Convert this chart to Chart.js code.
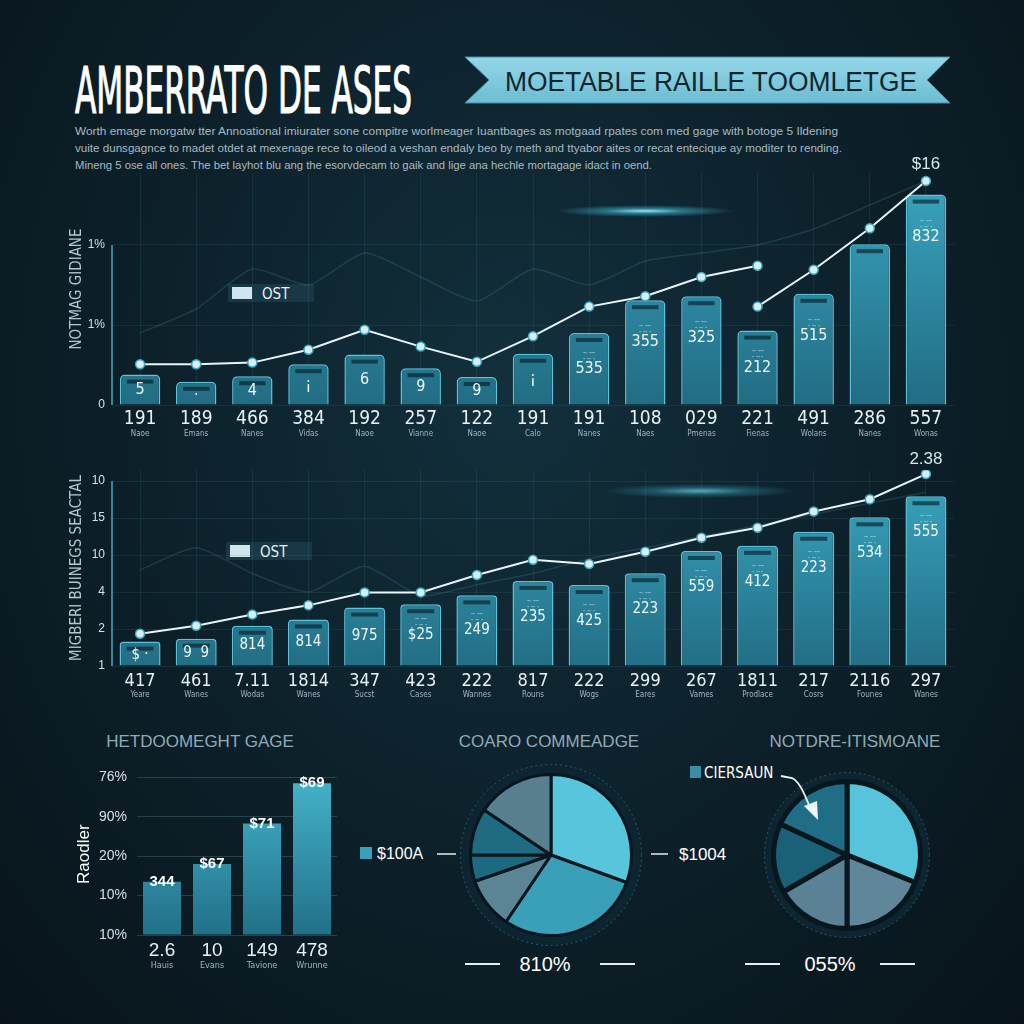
<!DOCTYPE html>
<html>
<head>
<meta charset="utf-8">
<script src="https://cdn.jsdelivr.net/npm/chart.js@4.4.1/dist/chart.umd.min.js"></script>
<style>
  html, body { margin: 0; padding: 0; }
  body {
    width: 1024px; height: 1024px; overflow: hidden; position: relative;
    background: radial-gradient(ellipse at 50% 38%, #12303c 0%, #0d222c 45%, #08141a 100%);
    font-family: "Liberation Sans", sans-serif;
  }
  svg.txt { position: absolute; left: 0; top: 0; }
  canvas { position: absolute; }
  .glow { position: absolute; border-radius: 50%; }
</style>
</head>
<body>

<svg class="txt" width="1024" height="1024">
  <defs>
    <linearGradient id="rib" x1="0" y1="0" x2="0" y2="1">
      <stop offset="0" stop-color="#94d7e8"/>
      <stop offset="1" stop-color="#6cbdd3"/>
    </linearGradient>
  </defs>
  <text x="75" y="113" font-family="Liberation Sans Narrow, DejaVu Sans Condensed" font-size="64" fill="#ffffff" stroke="#ffffff" stroke-width="1.2" textLength="337" lengthAdjust="spacingAndGlyphs">AMBERRATO DE ASES</text>
  <polygon points="465,57 950,57 927,80 950,103 465,103 489,80" fill="url(#rib)" stroke="#3f8fa6" stroke-width="1"/>
  <text x="505" y="91" font-family="Liberation Sans" font-size="27" fill="#10262f" textLength="412" lengthAdjust="spacingAndGlyphs">MOETABLE RAILLE TOOMLETGE</text>
  <g font-family="Liberation Sans" font-size="11" fill="#a7bac3">
    <text x="75" y="135" textLength="763" lengthAdjust="spacingAndGlyphs">Worth emage morgatw tter Annoational imiurater sone compitre worlmeager Iuantbages as motgaad rpates com med gage with botoge 5 Ildening</text>
    <text x="75" y="152" textLength="767" lengthAdjust="spacingAndGlyphs">vuite dunsgagnce to madet otdet at mexenage rece to oileod a veshan endaly beo by meth and ttyabor aites or recat entecique ay moditer to rending.</text>
    <text x="75" y="169" textLength="577" lengthAdjust="spacingAndGlyphs">Mineng 5 ose all ones. The bet layhot blu ang the esorvdecam to gaik and lige ana hechle mortagage idact in oend.</text>
  </g>

  <!-- OST boxes -->
  <rect x="228" y="284" width="86" height="18" fill="#1c3d4b" opacity="0.8"/>
  <rect x="232" y="287" width="20" height="12" fill="#cfe6ee"/>
  <text x="262" y="299" font-family="Liberation Sans Narrow, DejaVu Sans Condensed" font-size="15" fill="#e8f1f4">OST</text>
  <rect x="226" y="542" width="86" height="18" fill="#1c3d4b" opacity="0.8"/>
  <rect x="230" y="545" width="20" height="12" fill="#cfe6ee"/>
  <text x="260" y="557" font-family="Liberation Sans Narrow, DejaVu Sans Condensed" font-size="15" fill="#e8f1f4">OST</text>

  <!-- bottom titles -->
  <g font-family="Liberation Sans" font-size="17" fill="#8fabb7" text-anchor="middle">
    <text x="200" y="747">HETDOOMEGHT GAGE</text>
    <text x="549" y="747">COARO COMMEADGE</text>
    <text x="855" y="747">NOTDRE-ITISMOANE</text>
  </g>

  <!-- pie 1 labels -->
  <rect x="360" y="847" width="12" height="12" fill="#3a9fb8"/>
  <text x="377" y="859" font-family="Liberation Sans" font-size="16" fill="#ffffff">$100A</text>
  <line x1="437" y1="854" x2="456" y2="854" stroke="#e6eef2" stroke-width="1.5"/>
  <line x1="651" y1="854" x2="668" y2="854" stroke="#e6eef2" stroke-width="1.5"/>
  <text x="679" y="860" font-family="Liberation Sans" font-size="17" fill="#ffffff">$1004</text>
  <line x1="465" y1="964" x2="500" y2="964" stroke="#e6eef2" stroke-width="2"/>
  <text x="545" y="971" text-anchor="middle" font-family="Liberation Sans" font-size="20" fill="#ffffff">810%</text>
  <line x1="600" y1="964" x2="635" y2="964" stroke="#e6eef2" stroke-width="2"/>

  <!-- pie 2 labels -->
  <rect x="690" y="766" width="11" height="12" fill="#3a8ea4"/>
  <text x="704" y="778" font-family="Liberation Sans Narrow, DejaVu Sans Condensed" font-size="15" fill="#ffffff">CIERSAUN</text>
  <line x1="745" y1="964" x2="780" y2="964" stroke="#e6eef2" stroke-width="2"/>
  <text x="830" y="971" text-anchor="middle" font-family="Liberation Sans" font-size="20" fill="#ffffff">055%</text>
  <line x1="880" y1="964" x2="915" y2="964" stroke="#e6eef2" stroke-width="2"/>
</svg>

<div class="glow" style="left:555px; top:205px; width:180px; height:12px; background: radial-gradient(ellipse at center, rgba(150,240,255,0.95) 0%, rgba(60,180,210,0.55) 30%, rgba(20,90,110,0) 70%);"></div>
<div class="glow" style="left:605px; top:484px; width:190px; height:14px; background: radial-gradient(ellipse at center, rgba(120,220,240,0.7) 0%, rgba(50,150,175,0.4) 35%, rgba(20,90,110,0) 72%);"></div>

<canvas id="c1" width="900" height="295" style="left:60px; top:150px;"></canvas>
<canvas id="c2" width="900" height="266" style="left:60px; top:440px;"></canvas>
<canvas id="c3" width="275" height="220" style="left:70px; top:755px;"></canvas>
<canvas id="c4" width="220" height="220" style="left:441px; top:745px;"></canvas>
<canvas id="c5" width="200" height="200" style="left:747px; top:755px;"></canvas>

<svg class="txt" width="1024" height="1024">
  <path d="M781,776 L792,778 C800,782 805,795 811,810" stroke="#f0f6f8" stroke-width="1.8" fill="none"/>
  <polygon points="804,806 818,820 817,801" fill="#f0f6f8"/>
</svg>

<script>
// ---- chart 1 (top) ----
const cat1Nums = ['191', '189', '466', '384', '192', '257', '122', '191', '191', '108', '029', '221', '491', '286', '557'];
const cat1Subs = ['Naoe', 'Emans', 'Nanes', 'Vidas', 'Naoe', 'Vianne', 'Naoe', 'Calo', 'Nanes', 'Naes', 'Pmenas', 'Fienas', 'Wolans', 'Nanes', 'Wonas'];
const bar1 = [0.38, 0.29, 0.36, 0.51, 0.63, 0.46, 0.35, 0.64, 0.9, 1.31, 1.36, 0.93, 1.39, 2.01, 2.63];
const line1a = [0.51, 0.51, 0.53, 0.69, 0.94, 0.73, 0.54, 0.86, 1.23, 1.36, 1.6, 1.74, null, null, null];
const line1b = [null, null, null, null, null, null, null, null, null, null, null, 1.23, 1.69, 2.21, 2.8];
const ghost1 = [0.9, 1.2, 1.7, 1.5, 1.9, 1.6, 1.3, 1.7, 1.5, 1.8, 1.9, 2.0, 2.2, 2.5, 2.8];
const barText1 = ['5', '·', '4', '¡', '6', '9', '9', '¡', '535', '355', '325', '212', '515', '', '832'];
const y1Ticks = ['0', '1%', '1%'];

// ---- chart 2 (middle) ----
const cat2Nums = ['417', '461', '7.11', '1814', '347', '423', '222', '817', '222', '299', '267', '1811', '217', '2116', '297'];
const cat2Subs = ['Yeare', 'Wanes', 'Wodas', 'Wanes', 'Sucst', 'Cases', 'Wannes', 'Rouns', 'Wogs', 'Eares', 'Vames', 'Prodlace', 'Cosrs', 'Founes', 'Wanes'];
const bar2 = [0.66, 0.74, 1.09, 1.26, 1.58, 1.67, 1.91, 2.3, 2.19, 2.51, 3.11, 3.25, 3.63, 4.02, 4.59];
const line2 = [0.87, 1.09, 1.39, 1.64, 1.99, 1.99, 2.46, 2.87, 2.76, 3.09, 3.47, 3.74, 4.18, 4.51, 5.19];
const ghost2 = [2.6, 3.2, 2.5, 2.0, 2.7, 1.9, 2.2, 2.5, 2.9, 3.2, 3.5, 3.8, 4.1, 4.4, 4.7];
const barText2 = ['$ ·', '9  9', '814', '814', '975', '$25', '249', '235', '425', '223', '559', '412', '223', '534', '555'];
const y2Ticks = ['1', '2', '4', '10', '15', '10'];

// ---- chart 3 (bottom left) ----
const cat3Nums = ['2.6', '10', '149', '478'];
const cat3Subs = ['Hauis', 'Evans', 'Tavione', 'Wrunne'];
const bar3 = [1.35, 1.8, 2.83, 3.85];
const barTop3 = ['344', '$67', '$71', '$69'];
const y3Ticks = ['10%', '10%', '20%', '90%', '76%'];

// ---- pies ----
const slices4 = [110, 104, 37, 19, 34, 56];
const colors4 = ['#57c6dc', '#3aa0ba', '#5b8595', '#1c6a81', '#1e6b82', '#587f8e'];
const slices5 = [112, 68, 60, 55, 65];
const colors5 = ['#56c4da', '#5f8799', '#5a8294', '#1a6077', '#1f6e86'];

const narrow = '"Liberation Sans Narrow", "DejaVu Sans Condensed", sans-serif';
const sans = '"Liberation Sans", sans-serif';

function barGrad(top, bottom) {
  return function (c) {
    const a = c.chart.chartArea;
    if (!a) return bottom;
    const g = c.chart.ctx.createLinearGradient(0, a.top, 0, a.bottom);
    g.addColorStop(0, top);
    g.addColorStop(1, bottom);
    return g;
  };
}

const barDecor = {
  id: 'barDecor',
  afterDatasetsDraw(chart, args, o) {
    const ctx = chart.ctx;
    const meta = chart.getDatasetMeta(0);
    ctx.save();
    meta.data.forEach((bar, i) => {
      const w = bar.width, top = bar.y, h = bar.base - bar.y;
      if (o.cap) {
        ctx.fillStyle = 'rgba(6,24,32,0.6)';
        ctx.fillRect(bar.x - w / 2 + 7, top + 5, w - 14, 4);
      }
      const t = o.texts ? o.texts[i] : '';
      if (t) {
        ctx.font = o.font;
        ctx.fillStyle = o.color || '#fff';
        ctx.textAlign = 'center';
        ctx.textBaseline = 'middle';
        const y = o.mode === 'top' ? top : top + Math.max(14, Math.min(h / 2, o.maxDrop || 40));
        ctx.fillText(t, bar.x, y);
        if (o.mode !== 'top' && h > 60) {
          ctx.font = '7px ' + sans;
          ctx.fillStyle = 'rgba(210,235,242,0.7)';
          ctx.fillText('ꞏꞏ ꞏꞏꞏ', bar.x, y - 16);
          ctx.fillText('ꞏ ꞏꞏ ꞏ', bar.x, y - 10);
        }
      }
    });
    ctx.restore();
  }
};

const xLabels = {
  id: 'xLabels',
  afterDraw(chart, args, o) {
    const ctx = chart.ctx, xs = chart.scales.x;
    ctx.save();
    ctx.textAlign = 'center';
    ctx.textBaseline = 'middle';
    o.nums.forEach((n, i) => {
      const x = xs.getPixelForValue(i);
      ctx.font = o.numFont;
      ctx.fillStyle = '#e8f0f3';
      ctx.fillText(n, x, chart.chartArea.bottom + o.numY);
      ctx.font = o.subFont;
      ctx.fillStyle = '#9fb6c0';
      ctx.fillText(o.subs[i], x, chart.chartArea.bottom + o.subY);
    });
    ctx.restore();
  }
};

const axisLine = {
  id: 'axisLine',
  afterDraw(chart, args, o) {
    if (o.top === undefined) return;
    const ctx = chart.ctx, a = chart.chartArea;
    ctx.save();
    ctx.strokeStyle = '#4aa7c0';
    ctx.lineWidth = 1.5;
    ctx.beginPath();
    ctx.moveTo(a.left, chart.scales.y.getPixelForValue(o.top));
    ctx.lineTo(a.left, a.bottom);
    ctx.stroke();
    ctx.restore();
  }
};

const pointTag = {
  id: 'pointTag',
  afterDraw(chart, args, o) {
    if (!o.text) return;
    const p = chart.getDatasetMeta(o.dataset).data[o.index];
    const ctx = chart.ctx;
    ctx.save();
    ctx.font = o.font;
    ctx.fillStyle = '#d7e4ea';
    ctx.textAlign = 'center';
    ctx.textBaseline = 'middle';
    ctx.fillText(o.text, p.x, p.y - o.dy);
    ctx.restore();
  }
};

const ring = {
  id: 'ring',
  beforeDatasetsDraw(chart, args, o) {
    const arc = chart.getDatasetMeta(0).data[0];
    if (!arc) return;
    const ctx = chart.ctx, r = arc.outerRadius + o.width;
    ctx.save();
    ctx.beginPath();
    ctx.arc(arc.x, arc.y, r, 0, Math.PI * 2);
    ctx.fillStyle = '#0c2530';
    ctx.fill();
    ctx.setLineDash([2, 3]);
    ctx.strokeStyle = 'rgba(90,150,170,0.45)';
    ctx.lineWidth = 1;
    ctx.stroke();
    ctx.restore();
  }
};

const lineStyle = {
  type: 'line', order: 0, borderColor: '#e8f5f9', borderWidth: 2, tension: 0,
  pointRadius: 4.5, pointBackgroundColor: '#d6eef4', pointBorderColor: '#3aa6c0', pointBorderWidth: 1.5
};
const ghostStyle = {
  type: 'line', order: 3, borderColor: 'rgba(80,150,172,0.22)', borderWidth: 1.5, pointRadius: 0, tension: 0.2
};
const gridColor = 'rgba(70,130,150,0.16)';

function comboOptions(yMax, yTicks, yTitle, padTop, plugins) {
  return {
    responsive: false, animation: false,
    layout: { padding: { top: padTop, right: 5 } },
    plugins: Object.assign({ legend: { display: false }, tooltip: { enabled: false } }, plugins),
    scales: {
      x: {
        ticks: { display: false },
        grid: { color: gridColor, offset: false, drawTicks: false },
        border: { display: false },
        afterFit: s => { s.height = 40; }
      },
      y: {
        min: 0, max: yMax,
        afterBuildTicks: s => { s.ticks = yTicks.map((t, i) => ({ value: i })); },
        ticks: { color: '#d3e0e6', font: { size: 12, family: sans }, padding: 7, callback: (v, i) => yTicks[i] },
        grid: { color: gridColor, drawTicks: false },
        border: { display: false },
        title: { display: true, text: yTitle, color: '#b3c7cf', font: { size: 15, family: narrow }, padding: { top: 8, bottom: 4 } },
        afterFit: s => { s.width = 52; }
      }
    }
  };
}

new Chart(document.getElementById('c1'), {
  type: 'bar',
  data: {
    labels: cat1Nums,
    datasets: [
      { type: 'bar', data: bar1, order: 2, backgroundColor: barGrad('#3aa6c0', '#216c83'), borderColor: '#5ec2d9', borderWidth: 1.5,
        borderRadius: { topLeft: 5, topRight: 5 }, borderSkipped: 'bottom', barPercentage: 0.72, categoryPercentage: 1 },
      Object.assign({ data: line1a }, lineStyle),
      Object.assign({ data: line1b }, lineStyle),
      Object.assign({ data: ghost1 }, ghostStyle)
    ]
  },
  options: comboOptions(2.9, y1Ticks, 'NOTMAG GIDIANE', 23, {
    barDecor: { cap: true, texts: barText1, font: '16px ' + narrow, color: '#f2f8fa', maxDrop: 42 },
    xLabels: { nums: cat1Nums, subs: cat1Subs, numFont: '19px ' + narrow, subFont: '8px ' + narrow, numY: 14, subY: 29 },
    axisLine: { top: 2 },
    pointTag: { dataset: 2, index: 14, text: '$16', font: '17px ' + sans, dy: 17 }
  }),
  plugins: [barDecor, xLabels, axisLine, pointTag]
});

new Chart(document.getElementById('c2'), {
  type: 'bar',
  data: {
    labels: cat2Nums,
    datasets: [
      { type: 'bar', data: bar2, order: 2, backgroundColor: barGrad('#3aa6c0', '#226e85'), borderColor: '#5ec2d9', borderWidth: 1.5,
        borderRadius: { topLeft: 4, topRight: 4 }, borderSkipped: 'bottom', barPercentage: 0.73, categoryPercentage: 1 },
      Object.assign({ data: line2 }, lineStyle),
      Object.assign({ data: ghost2 }, ghostStyle)
    ]
  },
  options: comboOptions(5.3, y2Ticks, 'MIGBERI BUINEGS SEACTAL', 30, {
    barDecor: { cap: true, texts: barText2, font: '15px ' + narrow, color: '#f2f8fa', maxDrop: 36 },
    xLabels: { nums: cat2Nums, subs: cat2Subs, numFont: '18px ' + narrow, subFont: '8px ' + narrow, numY: 15, subY: 29 },
    axisLine: { top: 5 },
    pointTag: { dataset: 1, index: 14, text: '2.38', font: '17px ' + sans, dy: 15 }
  }),
  plugins: [barDecor, xLabels, axisLine, pointTag]
});

new Chart(document.getElementById('c3'), {
  type: 'bar',
  data: {
    labels: cat3Nums,
    datasets: [
      { data: bar3, backgroundColor: barGrad('#45b5cc', '#217088'), borderWidth: 0, barPercentage: 0.76, categoryPercentage: 1 }
    ]
  },
  options: {
    responsive: false, animation: false,
    layout: { padding: { top: 16, right: 8 } },
    plugins: {
      legend: { display: false }, tooltip: { enabled: false },
      barDecor: { texts: barTop3, font: 'bold 15px ' + sans, color: '#ffffff', mode: 'top' },
      xLabels: { nums: cat3Nums, subs: cat3Subs, numFont: '19px ' + sans, subFont: '9px ' + narrow, numY: 16, subY: 31 }
    },
    scales: {
      x: { ticks: { display: false }, grid: { display: false }, border: { display: false }, afterFit: s => { s.height = 40; } },
      y: {
        min: 0, max: 4.1,
        afterBuildTicks: s => { s.ticks = y3Ticks.map((t, i) => ({ value: i })); },
        ticks: { color: '#d3e0e6', font: { size: 14, family: sans }, padding: 10, callback: (v, i) => y3Ticks[i] },
        grid: { color: 'rgba(90,135,150,0.35)', drawTicks: false },
        border: { display: false },
        title: { display: true, text: 'Raodler', color: '#ffffff', font: { size: 17, family: sans }, padding: { top: 4, bottom: 2 } },
        afterFit: s => { s.width = 67; }
      }
    }
  },
  plugins: [barDecor, xLabels]
});

new Chart(document.getElementById('c4'), {
  type: 'pie',
  data: { labels: slices4.map((v, i) => 'S' + i), datasets: [{ data: slices4, backgroundColor: colors4, borderColor: '#08161d', borderWidth: 3 }] },
  options: {
    responsive: false, animation: false,
    layout: { padding: 28 },
    plugins: { legend: { display: false }, tooltip: { enabled: false }, ring: { width: 10 } }
  },
  plugins: [ring]
});

new Chart(document.getElementById('c5'), {
  type: 'pie',
  data: { labels: slices5.map((v, i) => 'S' + i), datasets: [{ data: slices5, backgroundColor: colors5, borderColor: '#08161d', borderWidth: 5 }] },
  options: {
    responsive: false, animation: false,
    layout: { padding: 24 },
    plugins: { legend: { display: false }, tooltip: { enabled: false }, ring: { width: 9 } }
  },
  plugins: [ring]
});
</script>
</body>
</html>
